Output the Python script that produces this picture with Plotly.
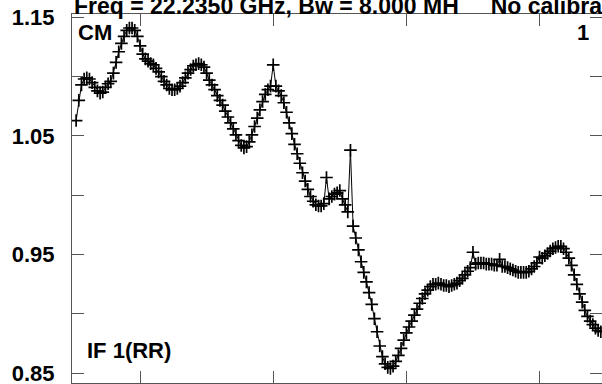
import plotly.graph_objects as go

# channel numbers (every 2nd channel)
channels = list(range(52, 448, 2))

amplitude = [
    1.063, 1.080, 1.093, 1.098, 1.099, 1.098, 1.095, 1.091, 1.088, 1.086,
    1.087, 1.091, 1.094, 1.096, 1.103, 1.112, 1.121, 1.128, 1.134, 1.139,
    1.141, 1.141, 1.139, 1.134, 1.126, 1.119, 1.115, 1.113, 1.111, 1.110,
    1.107, 1.104, 1.100, 1.096, 1.093, 1.090, 1.089, 1.089, 1.090, 1.092,
    1.095, 1.099, 1.103, 1.106, 1.109, 1.110, 1.111, 1.110, 1.108, 1.103,
    1.097, 1.093, 1.089, 1.084, 1.080, 1.076, 1.071, 1.066, 1.061, 1.056,
    1.051, 1.046, 1.042, 1.040, 1.041, 1.045, 1.051, 1.058, 1.065, 1.072,
    1.079, 1.085, 1.089, 1.092, 1.110, 1.092, 1.088, 1.084, 1.078, 1.070,
    1.061, 1.052, 1.043, 1.035, 1.027, 1.019, 1.012, 1.005, 0.999, 0.995,
    0.992, 0.991, 0.991, 0.993, 1.015, 0.997, 0.999, 1.001, 1.002, 1.004,
    0.997, 0.992, 0.986, 1.038, 0.974, 0.964, 0.954, 0.944, 0.935, 0.927,
    0.918, 0.908, 0.896, 0.885, 0.873, 0.864, 0.858, 0.855, 0.854, 0.856,
    0.860, 0.865, 0.871, 0.878, 0.884, 0.889, 0.894, 0.899, 0.904, 0.909,
    0.913, 0.917, 0.920, 0.923, 0.925, 0.925, 0.926, 0.925, 0.924, 0.924,
    0.923, 0.924, 0.925, 0.926, 0.928, 0.930, 0.933, 0.936, 0.939, 0.952,
    0.942, 0.943, 0.943, 0.943, 0.942, 0.942, 0.942, 0.941, 0.941, 0.946,
    0.940, 0.940, 0.939, 0.938, 0.937, 0.936, 0.935, 0.935, 0.935, 0.935,
    0.936, 0.938, 0.940, 0.943, 0.948, 0.947, 0.949, 0.951, 0.953, 0.955,
    0.956, 0.957, 0.957, 0.955, 0.952, 0.947, 0.941, 0.933, 0.925, 0.917,
    0.910, 0.903, 0.898, 0.894, 0.891, 0.888, 0.886, 0.885,
]

y_tick_vals = [0.85, 0.90, 0.95, 1.00, 1.05, 1.10, 1.15]
y_tick_text = ["0.85", "", "0.95", "", "1.05", "", "1.15"]
x_tick_vals = [100, 200, 300, 400]

title_text = ("Freq = 22.2350 GHz, Bw = 8.000 MH" + "\u00a0" * 5
              + "No calibration applied")
FONT = "Liberation Sans, Arial, sans-serif"
AX = "#555555"

fig = go.Figure()
fig.add_trace(go.Scatter(
    x=channels[:len(amplitude)], y=amplitude, mode="lines+markers",
    line=dict(color="black", width=1),
    marker=dict(symbol="cross-thin", size=9, line=dict(color="black", width=1.7)),
    showlegend=False, hoverinfo="skip",
))

fig.update_layout(
    template="none",
    width=602, height=384,
    margin=dict(l=72, r=0, t=14, b=1, autoexpand=False),
    paper_bgcolor="white", plot_bgcolor="white",
    xaxis=dict(range=[48.9, 446.9], tickvals=x_tick_vals, showticklabels=False,
               ticks="inside", ticklen=12, tickcolor=AX, tickwidth=1,
               showline=True, linecolor=AX, linewidth=1, mirror="ticks",
               showgrid=False, zeroline=False, automargin=False),
    yaxis=dict(range=[0.8418, 1.1528], tickvals=y_tick_vals, ticktext=y_tick_text,
               ticks="inside", ticklen=12, tickcolor=AX, tickwidth=1,
               showline=True, linecolor=AX, linewidth=1, mirror="ticks",
               showgrid=False, zeroline=False, ticklabelstandoff=12, automargin=False,
               ticklabeloverflow="allow",
               tickfont=dict(family=FONT, size=22, color="black", weight="bold")),
    annotations=[
        dict(text=title_text, xref="paper", yref="paper", x=0.0, y=1.0,
             xanchor="left", yanchor="bottom", yshift=-7, showarrow=False,
             font=dict(family=FONT, size=23, color="black", weight="bold")),
        dict(text="CM", xref="paper", yref="paper", x=0.008, y=0.989,
             xanchor="left", yanchor="top", showarrow=False,
             font=dict(family=FONT, size=22, color="black", weight="bold")),
        dict(text="1", xref="paper", yref="paper", x=0.98, y=0.989,
             xanchor="right", yanchor="top", showarrow=False,
             font=dict(family=FONT, size=22, color="black", weight="bold")),
        dict(text="IF 1(RR)", xref="paper", yref="paper", x=0.024, y=0.0894,
             xanchor="left", yanchor="middle", showarrow=False,
             font=dict(family=FONT, size=22, color="black", weight="bold")),
    ],
)

fig.write_html("out.html", config={"displayModeBar": False},
               post_script="document.body.style.margin='0';document.body.style.overflow='hidden';")
